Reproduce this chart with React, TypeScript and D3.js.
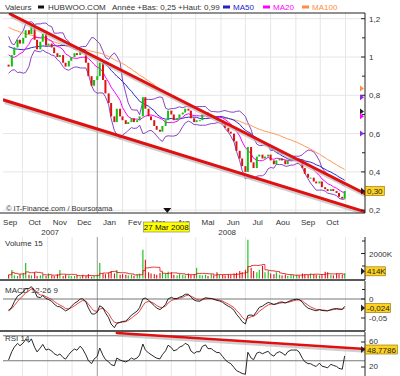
import React, { useMemo } from "react";
import * as d3 from "d3";

// ---------------- data ----------------
const monthLabels = ["Sep", "Oct", "Nov", "Dec", "Jan", "Fev", "Mar", "Avr", "Mai", "Jun", "Jul", "Aou", "Sep", "Oct"];
const yearLabels = ["2007", "2008"];
const priceTicks = [1.2, 1.0, 0.8, 0.6, 0.4, 0.2];
const priceTickLabels = ["1,2", "1", "0,8", "0,6", "0,4", "0,2"];
const minorPriceTicks = [1.1, 0.9, 0.7, 0.5, 0.3];
const volumeTicks = [2000];
const volumeTickLabels = ["2000K"];
const minorVolumeTicks = [3000, 1000];
const macdTicks = [0, -0.05];
const macdTickLabels = ["0", "-0,05"];
const rsiTicks = [60, 20];
const rsiTickLabels = ["60", "20"];

// closes before the visible window (only feed the moving averages / indicators)
const priorCloses = [
  1.30, 1.32, 1.28, 1.31, 1.27, 1.29, 1.33, 1.30, 1.26, 1.28,
  1.25, 1.27, 1.24, 1.22, 1.25, 1.23, 1.20, 1.22, 1.19, 1.21,
  1.17, 1.14, 1.16, 1.12, 1.10, 1.13, 1.08, 1.05, 1.07, 1.03,
  1.00, 1.04, 1.08, 1.10, 1.06, 1.02, 0.99, 1.03, 0.98, 0.96,
];

// visible closes, every Tuesday and Friday from 14 Sep 2007 to 31 Oct 2008
const closes = [
  0.95, 1.01, 1.05, 1.09, 1.07, // Sep 07
  1.10, 1.14, 1.12, 1.16, 1.09, 1.04, 1.08, 1.12, 1.06, // Oct 07
  1.07, 1.05, 1.02, 1.00, 1.01, 0.97, 0.95, 0.98, 1.00, // Nov 07
  1.02, 1.01, 1.04, 1.02, 0.97, 0.90, 0.85, 0.88, // Dec 07
  0.90, 0.97, 0.88, 0.81, 0.76, 0.69, 0.66, 0.73, 0.69, // Jan 08
  0.67, 0.65, 0.66, 0.68, 0.66, 0.67, 0.69, 0.79, 0.73, // Feb 08
  0.69, 0.67, 0.64, 0.62, 0.61, 0.64, 0.67, 0.72, // Mar 08
  0.70, 0.67, 0.68, 0.70, 0.71, 0.73, 0.72, 0.68, 0.66, // Apr 08
  0.67, 0.67, 0.70, 0.71, 0.69, 0.69, 0.68, 0.67, 0.67, // May 08
  0.65, 0.63, 0.61, 0.60, 0.56, 0.51, 0.47, 0.43, // Jun 08
  0.40, 0.53, 0.45, 0.42, 0.48, 0.49, 0.47, 0.48, 0.49, // Jul 08
  0.46, 0.44, 0.46, 0.47, 0.46, 0.44, 0.46, 0.47, 0.47, // Aug 08
  0.47, 0.46, 0.42, 0.39, 0.37, 0.37, 0.35, 0.34, 0.35, // Sep 08
  0.32, 0.31, 0.30, 0.31, 0.30, 0.29, 0.27, 0.26, 0.30, // Oct 08
];

// volumes in thousands
const volumes = [
  300, 680, 250, 200, 350,
  450, 1240, 300, 250, 500, 200, 250, 300, 200,
  400, 250, 200, 350, 680, 200, 300, 250, 200,
  200, 250, 150, 300, 200, 350, 150, 200,
  300, 1240, 400, 350, 450, 600, 400, 680, 300,
  350, 300, 250, 300, 200, 350, 400, 2300, 1500,
  500, 400, 350, 300, 450, 500, 400, 550,
  500, 300, 250, 350, 300, 250, 400, 300, 350,
  850, 300, 250, 300, 200, 350, 250, 500, 300,
  300, 250, 350, 300, 400, 450, 600, 500,
  700, 3100, 850, 600, 500, 700, 1000, 500, 600,
  400, 350, 500, 300, 250, 300, 200, 300, 250,
  300, 250, 400, 350, 300, 400, 350, 300, 250,
  350, 540, 500, 300, 250, 400, 350, 300, 414,
];

// drawn trend lines: [y, m(0-based), d] with value at each end
const priceTrendLines = [
  { from: [2007, 8, 16], v1: 1.2245, to: [2008, 10, 26], v2: 0.2846 },
  { from: [2007, 8, 8], v1: 0.7755, to: [2008, 10, 26], v2: 0.1906 },
];
const rsiTrendLines = [{ from: [2008, 0, 25], v1: 74.4, to: [2008, 10, 26], v2: 48.8 }];

const lastValueLabels = { price: 0.3, priceText: "0,30", vol: 414, volText: "414K", macd: -0.024, macdText: "-0,024", rsi: 48.7786, rsiText: "48,7786" };
const cursorDate = [2008, 2, 27];
const cursorText = "27 Mar 2008";
const edgeMarkers = [
  { v: 0.835, color: "#ff8c40" },
  { v: 0.79, color: "#8a2be2" },
  { v: 0.715, color: "#222" },
  { v: 0.69, color: "#ff00ff" },
  { v: 0.60, color: "#8a2be2" },
];

// ---------------- helpers ----------------
const PTS = 2 / 5; // two points per five trading days
const RSI_POINTS = 9;
function sma(a: number[], n: number) {
  return a.map((_, i) => {
    const s = a.slice(Math.max(0, i - n + 1), i + 1);
    return d3.mean(s) as number;
  });
}
function sd(a: number[], n: number) {
  return a.map((_, i) => {
    const s = a.slice(Math.max(0, i - n + 1), i + 1);
    const m = d3.mean(s) as number;
    return Math.sqrt(d3.mean(s, (v) => (v - m) * (v - m)) as number);
  });
}
function ema(a: number[], n: number) {
  const k = 2 / (n + 1);
  const out: number[] = [];
  a.forEach((v, i) => out.push(i === 0 ? v : out[i - 1] + k * (v - out[i - 1])));
  return out;
}
function rsi(a: number[], n: number) {
  const ch = a.map((v, i) => (i === 0 ? 0 : v - a[i - 1]));
  let g = d3.mean(ch.slice(1, n + 1), (c) => Math.max(c, 0)) as number;
  let l = d3.mean(ch.slice(1, n + 1), (c) => Math.max(-c, 0)) as number;
  return a.map((_, i) => {
    if (i > n) {
      g = (g * (n - 1) + Math.max(ch[i], 0)) / n;
      l = (l * (n - 1) + Math.max(-ch[i], 0)) / n;
    }
    return l === 0 ? 100 : 100 - 100 / (1 + g / l);
  });
}
const D = (p: number[]) => new Date(p[0], p[1], p[2]);

const FONT = "'Liberation Sans', Arial, sans-serif";
const L = 3, R = 365;
const MAIN = [13, 213], VOL = [237, 280], MACD = [281, 331], RSI = [332, 376];

export default function App() {
  const dates = useMemo(
    () => d3.timeDay.range(new Date(2007, 8, 14), new Date(2008, 10, 1)).filter((d) => d.getDay() === 2 || d.getDay() === 5),
    []
  );
  const n = Math.min(dates.length, closes.length);
  const all = priorCloses.concat(closes);
  const off = priorCloses.length;
  const vis = (a: number[]) => a.slice(off, off + n);

  const ma20 = vis(sma(all, 20 * PTS));
  const ma50 = vis(sma(all, 50 * PTS));
  const ma100 = vis(sma(all, 100 * PTS));
  const bbStd = vis(sd(all, 20 * PTS));
  const bbUp = ma20.map((m, i) => m + 2 * bbStd[i]);
  const bbLo = ma20.map((m, i) => m - 2 * bbStd[i]);
  const e12 = ema(all, 12 * PTS), e26 = ema(all, 26 * PTS);
  const macdAll = e12.map((v, i) => v - e26[i]);
  const sigAll = ema(macdAll, 9 * PTS);
  const macd = vis(macdAll), sig = vis(sigAll);
  const rsiV = vis(rsi(all, RSI_POINTS));
  const volMa = sma(volumes.slice(0, n), 15 * PTS);

  const x = d3.scaleTime().domain([new Date(2007, 8, 1), new Date(2008, 10, 1)]).range([-2, 345.5]);
  const yP = d3.scaleLinear().domain([0.2, 1.2]).range([210.2, 18.7]);
  const yV = d3.scaleLinear().domain([0, 2000]).range([278.5, 253.5]);
  const yM = d3.scaleLinear().domain([-0.05, 0]).range([318, 299]);
  const yR = d3.scaleLinear().domain([20, 60]).range([367, 342]);

  const line = (vals: number[], ys: (v: number) => number) =>
    d3.line<number>().x((_, i) => x(dates[i])).y((v) => ys(v))(vals) || "";

  const monthStarts = d3.range(0, 15).map((i) => new Date(2007, 8 + i, 1));
  const monthMids = monthLabels.map((_, i) => new Date(2007, 8 + i, 16));
  const yearX = [(L + x(new Date(2008, 0, 1))) / 2, (x(new Date(2008, 0, 1)) + 357) / 2];

  const candles = closes.slice(0, n).map((c, i) => {
    const o = i === 0 ? priorCloses[priorCloses.length - 1] : closes[i - 1];
    return { o, c, up: c >= o, d: dates[i] };
  });

  const GREEN = "#11c011", RED = "#dd1111";
  const gridV = (top: number, bot: number) =>
    monthStarts.map((d, i) => {
      const xx = x(d);
      if (xx < L || xx > R) return null;
      const isYear = d.getMonth() === 0;
      return <line key={i} x1={xx} x2={xx} y1={top} y2={bot} stroke={isYear ? "#999" : "#e6e6e6"} strokeWidth={1} />;
    });

  const valueBox = (cy: number, text: string, w: number) => (
    <g>
      <path d={`M361,${cy - 3.5} L365,${cy} L361,${cy + 3.5} Z`} fill="#222" />
      <rect x={365.5} y={cy - 4.5} width={w} height={9} fill="#ffd21f" stroke="#8a6d00" strokeWidth={0.6} />
      <text x={367} y={cy + 3} fontSize={8} fontFamily={FONT} fill="#222">{text}</text>
    </g>
  );

  const trend = (t: any, ys: (v: number) => number, k: number, w: number) => {
    const x1 = x(D(t.from)), y1 = ys(t.v1), x2 = x(D(t.to)), y2 = ys(t.v2);
    return (
      <g key={k}>
        <line x1={x1 + 1} y1={y1 + 2.5} x2={x2 + 1} y2={y2 + 2.5} stroke="#bbb" strokeWidth={w} opacity={0.7} />
        <line x1={x1} y1={y1} x2={x2} y2={y2} stroke="#e01010" strokeWidth={w} strokeLinecap="round" />
      </g>
    );
  };

  const cx = x(D(cursorDate));

  return (
    <svg width={400} height={376} style={{ position: "absolute", left: 0, top: 0, background: "#fff" }}>
      <defs>
        <clipPath id="cMain"><rect x={L} y={MAIN[0]} width={R - L} height={MAIN[1] - MAIN[0]} /></clipPath>
        <clipPath id="cVol"><rect x={L} y={VOL[0]} width={R - L} height={VOL[1] - VOL[0]} /></clipPath>
        <clipPath id="cMacd"><rect x={L} y={MACD[0]} width={R - L} height={MACD[1] - MACD[0]} /></clipPath>
        <clipPath id="cRsi"><rect x={L} y={RSI[0]} width={R - L} height={RSI[1] - RSI[0]} /></clipPath>
      </defs>
      <rect x={0} y={0} width={400} height={376} fill="#fff" />

      {/* header */}
      <g fontFamily={FONT} fontSize={8} fill="#333">
        <text x={5} y={10}>Valeurs</text>
        <rect x={38} y={5.5} width={6} height={3} fill="#111" />
        <text x={48} y={10}>HUBWOO.COM</text>
        <text x={112} y={10}>{"Ann\u00e9e +Bas: 0,25 +Haut: 0,99"}</text>
        <rect x={223} y={5.5} width={7} height={3} fill="#2222cc" />
        <text x={233} y={10} fill="#2222cc">MA50</text>
        <rect x={263} y={5.5} width={7} height={3} fill="#ff00ff" />
        <text x={273} y={10} fill="#ff00ff">MA20</text>
        <rect x={302} y={5.5} width={7} height={3} fill="#ff8c40" />
        <text x={312} y={10} fill="#ff8c40">MA100</text>
      </g>

      {/* main panel grid */}
      {priceTicks.map((t, i) => (
        <line key={i} x1={L} x2={R} y1={yP(t)} y2={yP(t)} stroke="#e6e6e6" />
      ))}
      {gridV(MAIN[0], MAIN[1])}

      <g clipPath="url(#cMain)">
        <path d={line(bbUp, yP)} fill="none" stroke="#7a2fc0" strokeWidth={0.9} />
        <path d={line(bbLo, yP)} fill="none" stroke="#7a2fc0" strokeWidth={0.9} />
        <path d={line(ma100, yP)} fill="none" stroke="#ff9955" strokeWidth={1} />
        <path d={line(ma50, yP)} fill="none" stroke="#2a2ad0" strokeWidth={1} />
        <path d={line(ma20, yP)} fill="none" stroke="#ff00ff" strokeWidth={1} />
        {candles.map((k, i) => {
          const yt = yP(Math.max(k.o, k.c));
          const h = Math.max(1, Math.abs(yP(k.o) - yP(k.c)));
          return <rect key={i} x={x(k.d) - 1} y={yt} width={2} height={h} fill={k.up ? GREEN : RED} />;
        })}
        {priceTrendLines.map((t, i) => trend(t, yP, i, 3))}
      </g>

      {/* main frame */}
      <line x1={0} x2={R} y1={MAIN[0]} y2={MAIN[0]} stroke="#222" />
      <line x1={0} x2={R} y1={MAIN[1]} y2={MAIN[1]} stroke="#222" />
      <line x1={R} x2={R} y1={MAIN[0]} y2={MAIN[1]} stroke="#222" />
      <g fontFamily={FONT} fontSize={8} fill="#333">
        {priceTicks.map((t, i) => (
          <g key={i}>
            <line x1={361} x2={365} y1={yP(t)} y2={yP(t)} stroke="#222" />
            <text x={369} y={yP(t) + 3}>{priceTickLabels[i]}</text>
          </g>
        ))}
        {minorPriceTicks.map((t, i) => (
          <line key={i} x1={362} x2={365} y1={yP(t)} y2={yP(t)} stroke="#222" />
        ))}
      </g>
      {edgeMarkers.map((m, i) => (
        <path key={i} d={`M360,${yP(m.v) - 3} L364,${yP(m.v)} L360,${yP(m.v) + 3} Z`} fill={m.color} />
      ))}
      {valueBox(yP(lastValueLabels.price), lastValueLabels.priceText, 19)}
      <text x={6} y={211} fontFamily={FONT} fontSize={7.5} fill="#333">© IT-Finance.com / Boursorama</text>

      {/* x axis */}
      <g fontFamily={FONT} fontSize={8} fill="#333" textAnchor="middle">
        {monthLabels.map((m, i) => (
          <text key={i} x={x(monthMids[i])} y={225}>{m}</text>
        ))}
        {yearLabels.map((yl, i) => (
          <text key={i} x={yearX[i]} y={235}>{yl}</text>
        ))}
      </g>
      <path d={`M${cx - 4},${MAIN[1] - 5} L${cx + 4},${MAIN[1] - 5} L${cx},${MAIN[1]} Z`} fill="#111" />
      <rect x={cx - 24} y={222} width={46} height={10} fill="#ffff00" stroke="#777" strokeWidth={0.6} />
      <text x={cx - 1} y={230} fontFamily={FONT} fontSize={8} fill="#111" textAnchor="middle">{cursorText}</text>

      {/* volume panel */}
      {gridV(VOL[0], VOL[1])}
      <text x={5} y={246} fontFamily={FONT} fontSize={8} fill="#333">Volume 15</text>
      <g clipPath="url(#cVol)">
        {volumes.slice(0, n).map((v, i) => (
          <rect key={i} x={x(dates[i]) - 0.5} y={yV(v)} width={1.1} height={yV(0) - yV(v)} fill={candles[i].up ? GREEN : RED} />
        ))}
        <path
          d={d3.line<number>().x((_, i) => x(dates[i])).y((v) => yV(v)).curve(d3.curveStepAfter)(volMa) || ""}
          fill="none" stroke="#e01010" strokeWidth={0.8}
        />
      </g>
      <line x1={R} x2={R} y1={VOL[0]} y2={VOL[1]} stroke="#222" />
      <line x1={0} x2={R} y1={VOL[1]} y2={VOL[1]} stroke="#222" strokeWidth={1.5} />
      <g fontFamily={FONT} fontSize={8} fill="#333">
        {volumeTicks.map((t, i) => (
          <g key={i}>
            <line x1={361} x2={365} y1={yV(t)} y2={yV(t)} stroke="#222" />
            <text x={369} y={yV(t) + 3}>{volumeTickLabels[i]}</text>
          </g>
        ))}
        {minorVolumeTicks.map((t, i) => (
          <line key={i} x1={362} x2={365} y1={yV(t)} y2={yV(t)} stroke="#222" />
        ))}
      </g>
      {valueBox(yV(lastValueLabels.vol) - 2, lastValueLabels.volText, 20)}

      {/* MACD panel */}
      {gridV(MACD[0], MACD[1])}
      <line x1={L} x2={R} y1={yM(0)} y2={yM(0)} stroke="#777" />
      <text x={5} y={293} fontFamily={FONT} fontSize={8} fill="#333">MACD 12-26 9</text>
      <g clipPath="url(#cMacd)">
        <path d={line(sig, yM)} fill="none" stroke="#e03030" strokeWidth={0.9} />
        <path d={line(macd, yM)} fill="none" stroke="#111" strokeWidth={0.9} />
      </g>
      <line x1={R} x2={R} y1={MACD[0]} y2={MACD[1]} stroke="#222" />
      <line x1={0} x2={R} y1={MACD[1]} y2={MACD[1]} stroke="#222" strokeWidth={1.5} />
      <g fontFamily={FONT} fontSize={8} fill="#333">
        {macdTicks.map((t, i) => (
          <g key={i}>
            <line x1={361} x2={365} y1={yM(t)} y2={yM(t)} stroke="#222" />
            <text x={369} y={yM(t) + 3}>{macdTickLabels[i]}</text>
          </g>
        ))}
        <line x1={362} x2={365} y1={yM(0.025)} y2={yM(0.025)} stroke="#222" />
      </g>
      {valueBox(yM(lastValueLabels.macd), lastValueLabels.macdText, 25)}

      {/* RSI panel */}
      {gridV(RSI[0], RSI[1])}
      <line x1={L} x2={R} y1={yR(70)} y2={yR(70)} stroke="#777" />
      <line x1={L} x2={R} y1={yR(30)} y2={yR(30)} stroke="#777" />
      <text x={5} y={341} fontFamily={FONT} fontSize={8} fill="#333">RSI 14</text>
      <g clipPath="url(#cRsi)">
        <path d={line(rsiV, yR)} fill="none" stroke="#111" strokeWidth={0.9} />
        {rsiTrendLines.map((t, i) => trend(t, yR, i, 2.5))}
      </g>
      <line x1={R} x2={R} y1={RSI[0]} y2={RSI[1]} stroke="#222" />
      <g fontFamily={FONT} fontSize={8} fill="#333">
        {rsiTicks.map((t, i) => (
          <g key={i}>
            <line x1={361} x2={365} y1={yR(t)} y2={yR(t)} stroke="#222" />
            <text x={369} y={yR(t) + 2}>{rsiTickLabels[i]}</text>
          </g>
        ))}
      </g>
      {valueBox(yR(lastValueLabels.rsi) + 0.5, lastValueLabels.rsiText, 32)}
    </svg>
  );
}
